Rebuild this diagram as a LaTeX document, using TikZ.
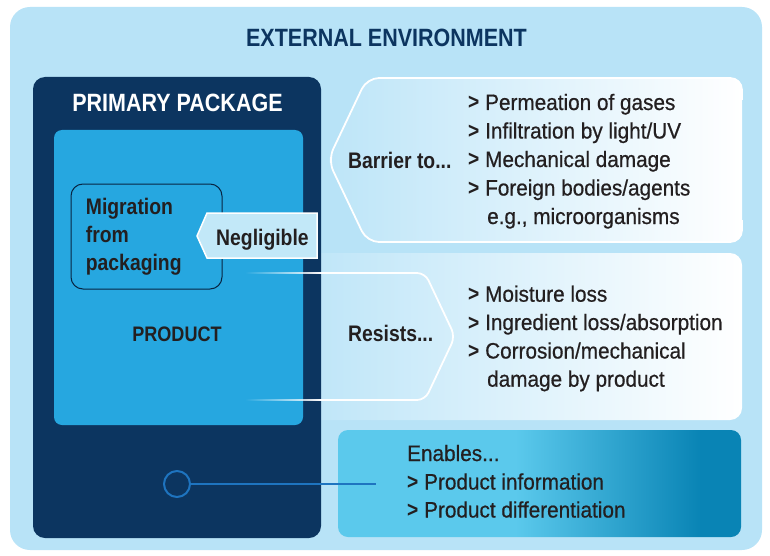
\documentclass[tikz,border=0pt]{standalone}
\usepackage{fontspec}
\setmainfont{Liberation Sans}
\newfontfamily\cbold{Liberation Sans}[FakeStretch=0.86]
\newfontfamily\creg{Liberation Sans}[FakeStretch=0.93,FakeBold=0.6]
\usetikzlibrary{fadings}
\definecolor{envbg}{HTML}{B8E3F7}
\definecolor{navy}{HTML}{0C3560}
\definecolor{prodblue}{HTML}{26A7E0}
\definecolor{ink}{HTML}{231F20}
\definecolor{panelL}{HTML}{BDE5F8}
\definecolor{tagfill}{HTML}{C2E8F8}
\definecolor{enabL}{HTML}{5BC9EC}
\definecolor{enabR}{HTML}{0984B5}
\definecolor{ringblue}{HTML}{1E74C0}
\pgfdeclarehorizontalshading{enabshade}{100bp}{color(0bp)=(enabL); color(25bp)=(enabL); color(47bp)=(enabL); color(70bp)=(enabR); color(75bp)=(enabR); color(100bp)=(enabR)}
\newcommand\bulgt{{\cbold\bfseries >}\ }
\tikzset{
  txt/.style={inner sep=0pt, anchor=base west, text=ink, font=\creg\fontsize{22.3}{26}\selectfont},
  btxt/.style={inner sep=0pt, anchor=base west, text=ink, font=\cbold\bfseries\fontsize{22.5}{26}\selectfont},
  panelline/.style={draw=white, line width=1.8pt},
}
\begin{document}
\begin{tikzpicture}[x=1pt,y=-1pt]
\useasboundingbox (0,0) rectangle (770,556);
% environment
\fill[envbg, rounded corners=20] (10,7) rectangle (762,550);
\node[inner sep=0pt, anchor=base, text=navy, font=\cbold\bfseries\fontsize{25}{30}\selectfont] (title) at (386.5,47) {EXTERNAL ENVIRONMENT};
% resists panel (behind package)
\shade[left color=panelL, right color=white, rounded corners=12] (300,253) rectangle (742,420);
% barrier panel
\shade[left color=panelL, right color=white] (328,160) [rounded corners=10] -- (367,78) -- (742,78) -- (742,242) -- (367,242) [rounded corners=3] -- cycle;
\draw[panelline] (742,100) [rounded corners=12] -- (742,78) -- (367,78) -- (328,160) -- (367,242) -- (742,242) -- (742,220);
% enables panel
\shade[shading=enabshade, rounded corners=10] (338,430) rectangle (741,537);
% primary package
\fill[navy, rounded corners=12] (33,77) rectangle (321,538);
\node[inner sep=0pt, anchor=base, text=white, font=\cbold\bfseries\fontsize{25}{30}\selectfont] (pp) at (177.5,112) {PRIMARY PACKAGE};
\fill[prodblue, rounded corners=8] (54,130) rectangle (303,425);
% migration box
\draw[draw=navy!70!black, line width=1pt, rounded corners=12] (71,184) rectangle (222,289);
\node[btxt] (mig1) at (85.7,214) {Migration};
\node[btxt] (mig2) at (85.7,242.5) {from};
\node[btxt] (mig3) at (85.7,270.5) {packaging};
\node[inner sep=0pt, anchor=base, text=ink, font=\cbold\bfseries\fontsize{21}{26}\selectfont] (product) at (177,341) {PRODUCT};
% negligible tag
\filldraw[fill=tagfill, draw=white, line width=1.5pt] (197,236) -- (207,213) -- (317,213) -- (317,258) -- (207,258) -- cycle;
\node[btxt] (negl) at (216,245) {Negligible};
% resists chevron
\fill[white, path fading=west] (245,272.1) rectangle (321,273.9);
\fill[white, path fading=west] (245,399.1) rectangle (321,400.9);
\draw[panelline] (321,273) [rounded corners=8] -- (425,273) -- (455,336.5) -- (425,400) [sharp corners] -- (321,400);
% texts barrier
\node[btxt] (barrier) at (348,168.3) {Barrier to...};
\node[txt] (b1) at (468,110) {\bulgt Permeation of gases};
\node[txt] (b2) at (468,138.5) {\bulgt Infiltration by light/UV};
\node[txt] (b3) at (468,167) {\bulgt Mechanical damage};
\node[txt] (b4) at (468,195.5) {\bulgt Foreign bodies/agents};
\node[txt] (b5) at (487,224) {e.g., microorganisms};
% texts resists
\node[btxt] (resists) at (348,341.7) {Resists...};
\node[txt] (r1) at (468,301.7) {\bulgt Moisture loss};
\node[txt] (r2) at (468,330) {\bulgt Ingredient loss/absorption};
\node[txt] (r3) at (468,358.5) {\bulgt Corrosion/mechanical};
\node[txt] (r4) at (487,386.7) {damage by product};
% enables
\node[txt] (e0) at (407,461) {Enables...};
\node[txt] (e1) at (407,489.5) {\bulgt Product information};
\node[txt] (e2) at (407,517.5) {\bulgt Product differentiation};
\node[circle, draw=ringblue, line width=2pt, minimum size=26pt, inner sep=0pt] (ring) at (177,484) {};
\coordinate (lineend) at (376,484);
\draw[ringblue, line width=2.5pt] (ring.east) -- (lineend);
\end{tikzpicture}
\end{document}
